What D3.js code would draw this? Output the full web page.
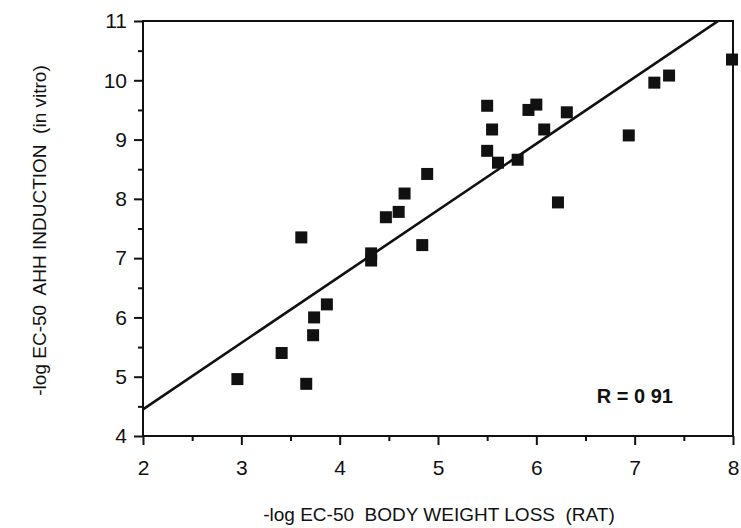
<!DOCTYPE html>
<html>
<head>
<meta charset="utf-8">
<script src="https://cdn.jsdelivr.net/npm/d3@7"></script>
<style>
  body { margin: 0; background: #fff; }
  text { font-family: "Liberation Sans", Arial, sans-serif; fill: #111; white-space: pre; }
</style>
</head>
<body>
<svg id="chart" width="741" height="528"></svg>
<script>
// bodyweight loss (x) vs AHH induction (y)
const bodyWeightLoss = [2.96, 3.41, 3.66, 3.73, 3.74, 3.87, 4.32, 4.32, 4.84, 3.61, 4.47, 4.60, 4.66, 4.89,
  5.50, 5.55, 5.50, 5.61, 5.81, 5.92, 6.00, 6.08, 6.31, 6.22, 6.94, 7.20, 7.35, 7.99];
const ahhInduction = [4.96, 5.40, 4.88, 5.70, 6.00, 6.22, 6.96, 7.08, 7.22, 7.35, 7.69, 7.78, 8.09, 8.42,
  9.57, 9.17, 8.81, 8.61, 8.66, 9.50, 9.59, 9.17, 9.46, 7.94, 9.07, 9.96, 10.08, 10.35];
const fitLine = [[2, 4.45], [8, 11.17]];
const xTicks = [2, 3, 4, 5, 6, 7, 8];
const yTicks = [4, 5, 6, 7, 8, 9, 10, 11];
const rLabel = "R = 0 91";

const svg = d3.select("#chart");
const pl = 143, pr = 733, pt = 21, pb = 436;

const x = d3.scaleLinear().domain([2, 8]).range([pl, pr]);
const y = d3.scaleLinear().domain([4, 11]).range([pb, pt]);

svg.append("clipPath").attr("id", "clip")
  .append("rect").attr("x", pl).attr("y", pt).attr("width", pr - pl).attr("height", pb - pt);

// frame
svg.append("rect")
  .attr("x", pl).attr("y", pt).attr("width", pr - pl).attr("height", pb - pt)
  .attr("fill", "none").attr("stroke", "#111").attr("stroke-width", 2);

// minor ticks
const xMinor = d3.range(2.5, 8, 1);
const yMinor = d3.range(4.5, 11, 1);

const xAxis = svg.append("g").attr("transform", `translate(0,${pb})`)
  .call(d3.axisBottom(x).tickValues(xTicks).tickSize(9).tickPadding(15).tickFormat(d3.format("d")));
svg.append("g").attr("transform", `translate(0,${pb})`)
  .call(d3.axisBottom(x).tickValues(xMinor).tickSize(5).tickFormat(""));

const yAxis = svg.append("g").attr("transform", `translate(${pl},0)`)
  .call(d3.axisLeft(y).tickValues(yTicks).tickSize(9).tickPadding(7).tickFormat(d3.format("d")));
svg.append("g").attr("transform", `translate(${pl},0)`)
  .call(d3.axisLeft(y).tickValues(yMinor).tickSize(5).tickFormat(""));

svg.selectAll(".domain").remove();
svg.selectAll(".tick line").attr("stroke", "#111").attr("stroke-width", 2);
xAxis.selectAll("text").attr("font-size", 21).attr("fill", "#111");
yAxis.selectAll("text").attr("font-size", 21).attr("fill", "#111");

// regression line
svg.append("path")
  .attr("clip-path", "url(#clip)")
  .attr("d", d3.line().x(d => x(d[0])).y(d => y(d[1]))(fitLine))
  .attr("fill", "none").attr("stroke", "#111").attr("stroke-width", 2.6);

// points
const pts = bodyWeightLoss.map((v, i) => [v, ahhInduction[i]]);
const s = 12;
svg.append("g").selectAll("rect").data(pts).join("rect")
  .attr("x", d => x(d[0]) - s / 2).attr("y", d => y(d[1]) - s / 2)
  .attr("width", s).attr("height", s).attr("fill", "#111");

// labels
svg.append("text")
  .attr("x", 439).attr("y", 521)
  .attr("text-anchor", "middle").attr("font-size", 19)
  .text("-log EC-50  BODY WEIGHT LOSS  (RAT)");

svg.append("text")
  .attr("transform", `translate(46,${(pt + pb) / 2 + 2}) rotate(-90)`)
  .attr("text-anchor", "middle").attr("font-size", 19)
  .text("-log EC-50  AHH INDUCTION  (in vitro)");

svg.append("text")
  .attr("x", 673).attr("y", 403)
  .attr("text-anchor", "end").attr("font-size", 20).attr("font-weight", "bold")
  .text(rLabel);
</script>
</body>
</html>
